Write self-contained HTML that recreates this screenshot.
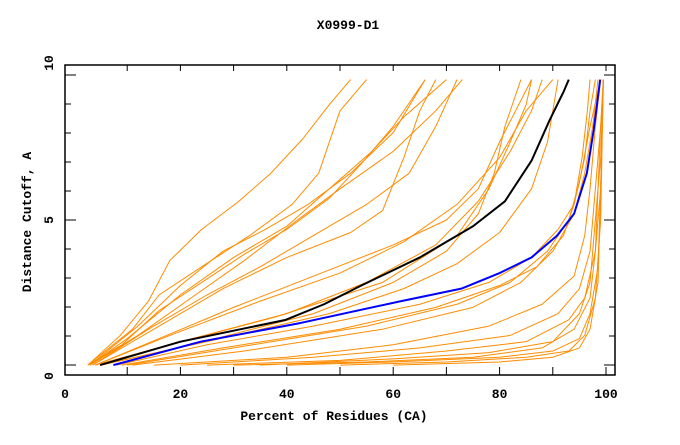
<!DOCTYPE html>
<html><head><meta charset="utf-8"><style>
body{margin:0;background:#fff;}
svg text{font-family:"Liberation Mono",monospace;font-weight:bold;font-size:13px;fill:#000;}
</style></head><body>
<svg id="chart" width="680" height="440">
<text x="348" y="29" text-anchor="middle">X0999-D1</text>
<text x="334" y="420" text-anchor="middle">Percent of Residues (CA)</text>
<text transform="translate(31,222) rotate(-90)" text-anchor="middle">Distance Cutoff, A</text>
<g id="plot"></g>
<rect x="65" y="65" width="550" height="310" fill="none" stroke="#000" stroke-width="1.5"/>
</svg>
<script>
const xTicks=[0,20,40,60,80,100];
const yTicks=[0,5,10];
const blackSeries=[[4.9,.35],[20,1.1],[39.8,1.8],[47,2.3],[54,2.9],[65,3.8],[75,4.8],[81,5.6],[86,6.9],[89.4,8.2],[92,9.1],[93,9.5]];
const blueSeries=[[7.4,.35],[23.8,1.1],[42.6,1.7],[61.5,2.4],[72.8,2.8],[80,3.3],[86,3.8],[90.8,4.5],[94,5.2],[96.4,6.5],[97.7,7.9],[98.9,9.5]];
const orangeSeries=[
[[2.6,.35],[8.7,1.3],[14,2.4],[18,3.7],[24,4.7],[31,5.6],[37,6.5],[43,7.6],[48,8.7],[52,9.5]],
[[2.6,.35],[11,1.5],[16,2.6],[24,3.5],[33,4.5],[41,5.5],[46,6.5],[50,8.5],[55,9.5]],
[[3,.35],[10,1.2],[20,2.6],[30,3.8],[40,4.8],[48,6.0],[56,7.2],[62,8.3],[70,9.5]],
[[3,.35],[12,1.3],[22,2.5],[32,3.7],[42,5.0],[50,6.0],[60,7.2],[68,8.5],[73,9.5]],
[[3.5,.35],[14,1.5],[25,2.6],[35,3.5],[45,4.5],[55,5.5],[63,6.5],[68,8],[72,9.5]],
[[3.5,.35],[14,1.4],[28,2.8],[40,3.8],[52,4.6],[58,5.3],[62,7],[65,8.5],[68,9.5]],
[[4,.35],[16,1.2],[30,2.2],[45,3.2],[60,4.2],[70,5.0],[76,6],[80,7.5],[83,8.5],[86,9.5]],
[[4,.35],[18,1.3],[35,2.4],[50,3.3],[62,4.3],[72,5.5],[80,7],[85,8.5],[90,9.5]],
[[4,.35],[20,1.1],[40,2.0],[55,3.0],[68,4.2],[76,5.6],[82,7.2],[86,8.5],[88,9.5]],
[[4,.35],[18,1.0],[38,1.9],[58,3.0],[72,4.5],[78,6],[82,7.5],[85,8.7],[86,9.5]],
[[5,.35],[22,1.0],[45,2],[60,3],[70,4],[76,5.2],[79,6.5],[81,8],[84,9.5]],
[[5,.35],[25,1.1],[48,2.0],[62,2.8],[72,3.6],[80,4.6],[86,6],[89,7.5],[91,9.5]],
[[8,.35],[25,1.0],[45,1.6],[65,2.3],[78,3],[86,3.8],[91,4.7],[94,5.5],[96,7],[97,8.5],[98,9.5]],
[[9,.35],[28,.9],[50,1.5],[68,2.2],[80,2.9],[87,3.5],[92,4.5],[94,5.5],[95.5,7],[96.5,8.5],[97,9.5]],
[[10,.35],[30,.9],[55,1.6],[72,2.3],[82,3.0],[89,4],[93,5],[95,6.2],[97,8],[99,9.5]],
[[11,.35],[32,.8],[58,1.5],[75,2.2],[84,3],[90,4],[94,5.2],[96,6.5],[97.5,8],[98.5,9.5]],
[[15,.35],[40,.6],[60,1.0],[78,1.6],[88,2.3],[94,3.2],[96,4.5],[97,6],[98,8],[99,9.5]],
[[20,.35],[45,.6],[65,.9],[82,1.3],[91,2],[95,2.8],[97,4],[98,6],[99,8],[99.5,9.5]],
[[25,.35],[50,.5],[70,.8],[85,1.1],[93,1.8],[96,2.5],[98,4],[98.5,6],[99,8],[99.5,9.5]],
[[30,.35],[55,.45],[75,.6],[88,.9],[94,1.5],[97,2.5],[98,4],[99,6],[99.5,9.5]],
[[40,.35],[60,.45],[80,.6],[90,.8],[95,1.2],[97,2],[98.5,3.5],[99,6],[99.5,9.5]],
[[50,.35],[70,.45],[85,.6],[93,.8],[96,1.3],[98,2.5],[99,5],[99.5,9.5]],
[[60,.35],[80,.45],[90,.6],[95,.9],[97,1.5],[98.5,3],[99,6],[99.5,9.5]],
[[35,.35],[60,.55],[78,.75],[90,1.1],[95,2],[97,3],[98,5],[99,7],[99.5,9.5]],
[[2.6,.35],[9,1.0],[16,2.1],[24,3.0],[32,3.9],[40,4.7],[48,5.7],[54,6.8],[60,8],[66,9.5]],
[[3,.35],[12,1.6],[20,2.9],[28,4.0],[36,4.7],[44,5.5],[52,6.5],[60,7.8],[66,9.5]]
];
const NS="http://www.w3.org/2000/svg";
function xs(v){return 74+5.32*v;}
function ys(v){return 376-31.2*v;}
function yTickPx(k){return 365-29*k;}
const plot=document.getElementById('plot');
function mk(t,a){const e=document.createElementNS(NS,t);for(const k in a)e.setAttribute(k,a[k]);return e;}
for(let v=10;v<=100;v+=10){
  const t=mk('line',{x1:xs(v),x2:xs(v),y1:375,y2:367,stroke:'#000','stroke-width':1});
  
  
  plot.appendChild(t);
  const t2=mk('line',{x1:xs(v),x2:xs(v),y1:65,y2:71,stroke:'#000','stroke-width':1});
  
  
  plot.appendChild(t2);
}
for(let k=0;k<=10;k++){
  const t=mk('line',{x1:65,x2:k%5==0?76:71,y1:yTickPx(k),y2:yTickPx(k),stroke:'#000','stroke-width':1});
  
  
  plot.appendChild(t);
  const t2=mk('line',{x1:615,x2:k%5==0?604:609,y1:yTickPx(k),y2:yTickPx(k),stroke:'#000','stroke-width':1});
  
  
  plot.appendChild(t2);
}
xTicks.forEach(v=>{
  const t=mk('text',{x:v==0?65:xs(v),y:398,'text-anchor':'middle'});
  t.textContent=v;
  
  
  plot.appendChild(t);
});
const yLabelPx={0:376,5:220,10:63};
yTicks.forEach(v=>{
  const t=mk('text',{transform:`translate(53,${yLabelPx[v]}) rotate(-90)`,'text-anchor':'middle'});
  t.textContent=v;
  
  
  plot.appendChild(t);
});
function line(pts,color,w,name){
  const p=mk('polyline',{points:pts.map(d=>xs(d[0])+','+ys(d[1])).join(' '),fill:'none',stroke:color,'stroke-width':w,'stroke-linejoin':'round'});
  
  
  plot.appendChild(p);
}
orangeSeries.forEach(s=>line(s,'#ff8c00',1,'orange-model-line'));
line(blackSeries,'#000',2,'black-model-line');
line(blueSeries,'#0000ff',2,'blue-model-line');
</script>
</body></html>
